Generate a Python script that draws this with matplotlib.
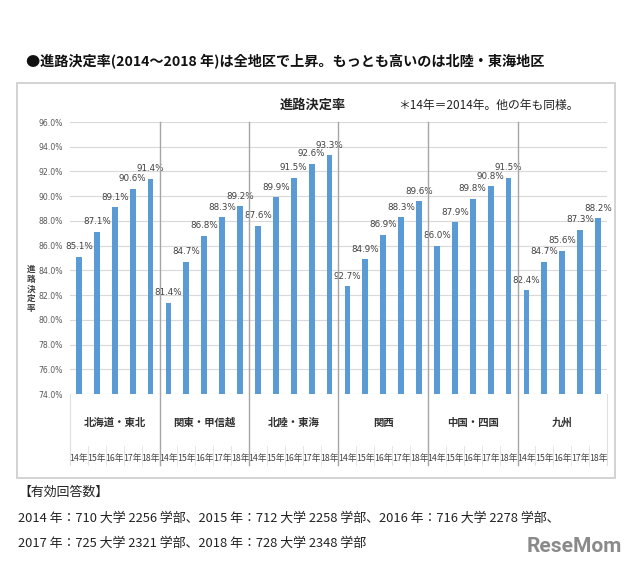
import matplotlib.pyplot as plt
from matplotlib.patches import Rectangle
from matplotlib.transforms import blended_transform_factory

plt.rcParams['font.family'] = ['Noto Sans CJK JP', 'DejaVu Sans']

# dati
regioni = ['北海道・東北', '関東・甲信越', '北陸・東海', '関西', '中国・四国', '九州']
anni = ['14年', '15年', '16年', '17年', '18年']
valori = [
    [85.1, 87.1, 89.1, 90.6, 91.4],
    [81.4, 84.7, 86.8, 88.3, 89.2],
    [87.6, 89.9, 91.5, 92.6, 93.3],
    [82.7, 84.9, 86.9, 88.3, 89.6],
    [86.0, 87.9, 89.8, 90.8, 91.5],
    [82.4, 84.7, 85.6, 87.3, 88.2],
]
# etichette come appaiono nell'originale (関西 14年 riporta "92.7%")
etichette = [
    ['85.1%', '87.1%', '89.1%', '90.6%', '91.4%'],
    ['81.4%', '84.7%', '86.8%', '88.3%', '89.2%'],
    ['87.6%', '89.9%', '91.5%', '92.6%', '93.3%'],
    ['92.7%', '84.9%', '86.9%', '88.3%', '89.6%'],
    ['86.0%', '87.9%', '89.8%', '90.8%', '91.5%'],
    ['82.4%', '84.7%', '85.6%', '87.3%', '88.2%'],
]
y_ticks = [74, 76, 78, 80, 82, 84, 86, 88, 90, 92, 94, 96]

fig = plt.figure(figsize=(6.4, 5.7), dpi=100)
W, H = 640, 570

def fx(px):
    return px / W

def fy(py):
    return 1 - py / H

# cornice del grafico
fig.patches.append(Rectangle((fx(17), fy(478)), fx(615 - 17), (478 - 83) / H,
                             transform=fig.transFigure, facecolor='white',
                             edgecolor='#d0d0d0', linewidth=1.3, zorder=-10))

fig.text(fx(26), fy(62), '●進路決定率(2014～2018 年)は全地区で上昇。もっとも高いのは北陸・東海地区',
         fontsize=10.2, fontweight='bold', va='center', ha='left', color='#111111')

fig.text(fx(313), fy(105), '進路決定率', fontsize=9.5, fontweight='bold',
         ha='center', va='center', color='#222222')
fig.text(fx(398), fy(105), '＊14年＝2014年。他の年も同様。', fontsize=8.5,
         ha='left', va='center', color='#222222')

ax = fig.add_axes([fx(70), fy(394), fx(607 - 70), (394 - 122) / H])
ax.patch.set_alpha(0)

x = []
y = []
lab = []
for g in range(len(regioni)):
    for i in range(len(anni)):
        x.append(g * len(anni) + i)
        y.append(valori[g][i])
        lab.append(etichette[g][i])

ax.bar(x, [v - 74 for v in y], bottom=74, width=0.32, color='#5B9BD5', zorder=3)
for xi, yi, t in zip(x, y, lab):
    ax.annotate(t, (xi, yi), textcoords='offset points', xytext=(0, 4),
                ha='center', va='bottom', fontsize=6.3, color='#404040',
                family='DejaVu Sans')

n = len(regioni) * len(anni)
ax.set_xlim(-0.5, n - 0.5)
ax.set_ylim(74, 96)
ax.set_yticks(y_ticks)
ax.set_yticklabels([f'{t:.1f}%' for t in y_ticks], fontsize=5.6, color='#595959',
                   family='DejaVu Sans')
ax.set_xticks([])
ax.tick_params(axis='y', length=0, pad=5)
ax.grid(axis='y', color='#d9d9d9', linewidth=0.8, zorder=0)
for s in ax.spines.values():
    s.set_visible(False)

# separatori fra regioni, prolungati sotto l'asse
trans = blended_transform_factory(ax.transData, fig.transFigure)
for g in range(len(regioni) + 1):
    xs = g * len(anni) - 0.5
    if 0 < g < len(regioni):
        ax.plot([xs, xs], [fy(122), fy(465)], transform=trans, color='#a6a6a6',
                linewidth=1.0, clip_on=False, zorder=4)
    else:
        ax.plot([xs, xs], [fy(394), fy(465)], transform=trans, color='#e0e0e0',
                linewidth=0.8, clip_on=False)

for g, nome in enumerate(regioni):
    xc = g * len(anni) + 2
    ax.text(xc, fy(423), nome, transform=trans, ha='center', va='center',
            fontsize=7.5, fontweight='bold', color='#333333')
    for i, a in enumerate(anni):
        ax.text(g * len(anni) + i, fy(458), a, transform=trans, ha='center',
                va='center', fontsize=6.3, color='#404040')
        if i > 0:
            ax.plot([g * len(anni) + i - 0.5] * 2, [fy(446), fy(465)],
                    transform=trans, color='#e6e6e6', linewidth=0.7, clip_on=False)

fig.text(fx(31), fy(289), '\n'.join('進路決定率'), fontsize=6.2, fontweight='bold',
         ha='center', va='center', linespacing=1.1, color='#404040')

fig.text(fx(18), fy(492), '【有効回答数】', fontsize=9.3, ha='left', va='center', color='#222222')
fig.text(fx(18), fy(518), '2014 年：710 大学 2256 学部、2015 年：712 大学 2258 学部、2016 年：716 大学 2278 学部、',
         fontsize=9.3, ha='left', va='center', color='#222222')
fig.text(fx(18), fy(543), '2017 年：725 大学 2321 学部、2018 年：728 大学 2348 学部',
         fontsize=9.3, ha='left', va='center', color='#222222')
fig.text(fx(622), fy(547), 'ReseMom', fontsize=15, fontweight='bold', ha='right',
         va='center', color='#8a8a8a', family='Roboto')

fig.savefig('out.png', dpi=100)
